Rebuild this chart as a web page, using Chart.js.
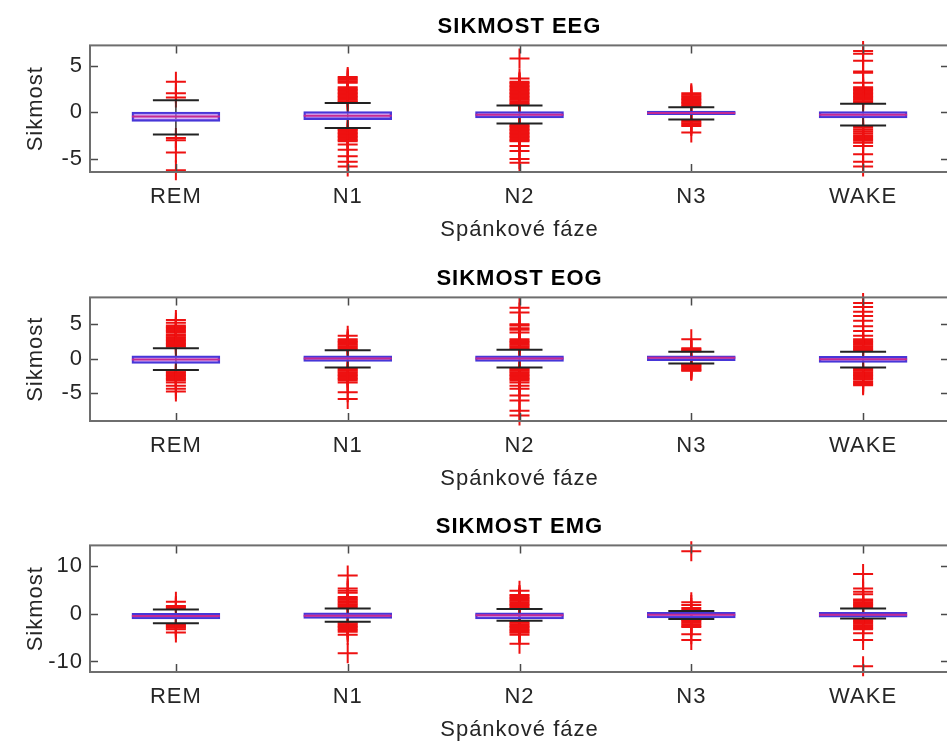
<!DOCTYPE html>
<html>
<head>
<meta charset="utf-8">
<script src="https://cdn.jsdelivr.net/npm/chart.js@4.4.0/dist/chart.umd.min.js"></script>
<style>
  html, body { margin: 0; padding: 0; background: #fff; overflow: hidden; width: 947px; height: 747px; }
  canvas { position: absolute; left: 0; }
</style>
</head>
<body>
<canvas id="eegChart" width="960" height="249" style="top:0px"></canvas>
<canvas id="eogChart" width="960" height="246" style="top:252px"></canvas>
<canvas id="emgChart" width="960" height="249" style="top:500px"></canvas>
<script>
// spankove faze (kategorie na ose x)
const categories = ['REM', 'N1', 'N2', 'N3', 'WAKE'];

// =============================
// SIKMOST EEG
// =============================
const eegLimits = [-6.4, 7.2];
const eegTicks = [-5, 0, 5];
const eegQ1     = [-0.96, -0.78, -0.6, -0.25, -0.6];
const eegMedian = [-0.45, -0.35, -0.25, -0.05, -0.25];
const eegQ3     = [0.05, 0.1, 0.1, 0.15, 0.1];
const eegLow    = [-2.38, -1.67, -1.2, -0.75, -1.4];
const eegHigh   = [1.3, 1.0, 0.75, 0.55, 0.93];
const eegOutREM  = [3.3, 2.05, 1.6, -2.75, -3.0, -4.3, -6.2];
const eegOutN1   = [3.8, 3.65, 3.5, 3.35, 3.2, 2.7, 2.55, 2.4, 2.25, 2.1, 1.95, 1.8, 1.65, 1.5, 1.35, 1.2, 1.1,
                    -1.75, -1.9, -2.05, -2.2, -2.35, -2.5, -2.65, -2.8, -2.95, -3.1, -3.45, -4.0, -4.7, -5.3, -5.8];
const eegOutN2   = [5.8, 3.65, 3.3, 3.15, 3.0, 2.85, 2.7, 2.55, 2.4, 2.25, 2.1, 1.95, 1.8, 1.65, 1.5, 1.35, 1.2, 1.05, 0.9,
                    -1.3, -1.45, -1.6, -1.75, -1.9, -2.05, -2.2, -2.35, -2.5, -2.65, -2.8, -2.95, -3.1, -3.6, -4.15, -5.0, -5.4];
const eegOutN3   = [2.05, 1.9, 1.75, 1.6, 1.45, 1.3, 1.15, 1.0, 0.85, 0.7,
                    -0.85, -1.0, -1.15, -1.3, -1.45, -2.15];
const eegOutWAKE = [6.6, 6.3, 5.55, 4.4, 4.25, 3.2, 2.7, 2.55, 2.4, 2.25, 2.1, 1.95, 1.8, 1.65, 1.5, 1.35, 1.2, 1.05,
                    -1.45, -1.65, -1.85, -2.05, -2.25, -2.45, -2.65, -2.85, -3.05, -3.25, -3.6, -4.5, -5.3, -5.8];

// =============================
// SIKMOST EOG
// =============================
const eogLimits = [-9.1, 8.9];
const eogTicks = [-5, 0, 5];
const eogQ1     = [-0.72, -0.43, -0.43, -0.3, -0.58];
const eogMedian = [-0.15, 0.0, 0.0, 0.1, -0.1];
const eogQ3     = [0.4, 0.4, 0.4, 0.4, 0.3];
const eogLow    = [-1.68, -1.3, -1.3, -0.72, -1.3];
const eogHigh   = [1.5, 1.22, 1.26, 0.97, 0.97];
const eogOutREM  = [5.6, 5.2, 4.8, 4.6, 4.4, 4.2, 4.0, 3.8, 3.5, 3.3, 3.1, 2.9, 2.7, 2.5, 2.3, 2.1, 1.9, 1.7,
                    -1.8, -2.0, -2.2, -2.4, -2.6, -2.8, -3.0, -3.2, -3.5, -3.95, -4.4, -4.8];
const eogOutN1   = [3.3, 2.8, 2.6, 2.4, 2.2, 2.0, 1.8, 1.6, 1.4,
                    -1.4, -1.6, -1.8, -2.0, -2.2, -2.4, -2.6, -2.8, -3.0, -3.2, -3.5, -4.9, -5.9];
const eogOutN2   = [7.4, 6.7, 5.0, 4.8, 4.4, 4.2, 3.8, 2.8, 2.6, 2.4, 2.2, 2.0, 1.8, 1.6, 1.4,
                    -1.4, -1.6, -1.8, -2.0, -2.2, -2.4, -2.6, -2.8, -3.0, -3.2, -3.5, -3.95, -4.4, -5.4, -6.1, -7.6, -8.3];
const eogOutN3   = [2.8, 1.5, 1.35, 1.2, 1.05,
                    -0.8, -0.95, -1.1, -1.25, -1.4, -1.55, -1.7, -1.8];
const eogOutWAKE = [8.1, 7.5, 6.8, 6.2, 5.5, 4.7, 4.0, 3.3, 2.8, 2.6, 2.4, 2.2, 2.0, 1.8, 1.6, 1.4, 1.2,
                    -1.4, -1.6, -1.8, -2.0, -2.2, -2.4, -2.6, -2.8, -3.0, -3.3, -3.5, -3.7, -3.9];

// =============================
// SIKMOST EMG
// =============================
const emgLimits = [-12.2, 14.3];
const emgTicks = [-10, 0, 10];
const emgQ1     = [-1.1, -1.0, -1.1, -0.9, -0.7];
const emgMedian = [-0.5, -0.4, -0.3, -0.2, -0.2];
const emgQ3     = [0.1, 0.2, 0.2, 0.3, 0.3];
const emgLow    = [-2.0, -1.7, -1.45, -1.1, -1.0];
const emgHigh   = [0.9, 1.1, 1.0, 0.56, 1.1];
const emgOutREM  = [2.5, 1.6, 1.35, 1.1,
                    -2.2, -2.45, -2.7, -2.95, -3.25, -3.95];
const emgOutN1   = [8.0, 5.3, 4.8, 4.4, 3.5, 3.2, 2.9, 2.6, 2.3, 2.0, 1.7, 1.4,
                    -1.9, -2.2, -2.5, -2.8, -3.1, -3.4, -3.75, -4.4, -8.25];
const emgOutN2   = [4.8, 3.9, 3.6, 3.3, 3.0, 2.7, 2.4, 2.1, 1.8, 1.5, 1.2,
                    -1.6, -1.9, -2.2, -2.5, -2.8, -3.1, -3.4, -3.7, -4.0, -4.4, -6.3];
const emgOutN3   = [13.1, 2.4, 1.8, 1.2, 0.8,
                    -1.3, -1.6, -1.9, -2.2, -2.5, -2.8, -4.3, -5.5];
const emgOutWAKE = [8.3, 5.3, 4.6, 4.1, 3.0, 2.7, 2.4, 2.1, 1.8, 1.5, 1.2,
                    -1.2, -1.5, -1.8, -2.1, -2.4, -2.7, -3.0, -3.25, -4.1, -5.5, -11.0];

// =============================
// Helpers / styl
// =============================
const FONT = 'Liberation Sans, Arial, Helvetica, sans-serif';
const TEXT_COLOR = '#262626';
const TICK_LEN = 8;

// MATLAB-like ramecek + tick dovnitr
const framePlugin = {
  id: 'frame',
  afterDraw(chart) {
    const { ctx, chartArea: a, scales: { x, y } } = chart;
    ctx.save();
    ctx.strokeStyle = '#4a4a4a';
    ctx.lineWidth = 1.5;
    ctx.beginPath();
    x.ticks.forEach(t => {
      const px = Math.round(x.getPixelForValue(t.value)) + 0.5;
      ctx.moveTo(px, a.top); ctx.lineTo(px, a.top + TICK_LEN);
      ctx.moveTo(px, a.bottom); ctx.lineTo(px, a.bottom - TICK_LEN);
    });
    y.ticks.forEach(t => {
      const py = Math.round(y.getPixelForValue(t.value)) + 0.5;
      ctx.moveTo(a.left, py); ctx.lineTo(a.left + TICK_LEN, py);
      ctx.moveTo(a.right, py); ctx.lineTo(a.right - TICK_LEN, py);
    });
    ctx.stroke();
    ctx.strokeStyle = '#6e6e6e';
    ctx.lineWidth = 2;
    ctx.strokeRect(a.left, a.top, a.right - a.left, a.bottom - a.top);
    ctx.restore();
  }
};

// trochu sirsi pismo jako v MATLABu
const spacingPlugin = {
  id: 'spacing',
  beforeLayout(chart) { chart.ctx.letterSpacing = '1px'; },
  beforeDraw(chart) { chart.ctx.letterSpacing = '1px'; }
};

function makeChart(canvasId, title, limits, ticks, q1, med, q3, low, high, outliers) {
  const xs = categories.map((c, i) => i + 1);

  const boxes = xs.map((x, i) => ({ x, y: [q1[i], q3[i]] }));
  const medians = xs.map((x, i) => ({ x, y: med[i] }));
  const caps = [];
  const whiskers = [];
  xs.forEach((x, i) => {
    caps.push({ x, y: low[i] }, { x, y: high[i] });
    whiskers.push({ x, y: low[i] }, { x, y: high[i] }, { x, y: null });
  });
  const outPts = [];
  outliers.forEach((arr, i) => arr.forEach(v => outPts.push({ x: xs[i], y: v })));

  return new Chart(document.getElementById(canvasId), {
    type: 'scatter',
    data: {
      datasets: [
        { type: 'scatter', data: medians, pointStyle: 'line', pointRadius: 44, pointHoverRadius: 44,
          borderColor: '#c42a92', borderWidth: 2 },
        { type: 'bar', data: boxes, barThickness: 88, grouped: false, borderSkipped: false,
          backgroundColor: 'rgba(185,125,240,0.55)', borderColor: '#4636d8', borderWidth: 2 },
        { type: 'scatter', data: caps, pointStyle: 'line', pointRadius: 23, pointHoverRadius: 23,
          borderColor: '#222222', borderWidth: 2 },
        { type: 'line', data: whiskers, showLine: true, spanGaps: false, pointRadius: 0,
          borderColor: '#333333', borderWidth: 1.5 },
        { type: 'scatter', data: outPts, pointStyle: 'cross', pointRadius: 10, pointHoverRadius: 10,
          borderColor: '#ee1111', borderWidth: 2, clip: false },
      ]
    },
    options: {
      responsive: false,
      animation: false,
      devicePixelRatio: 1,
      events: [],
      layout: { autoPadding: false, padding: { left: 0, right: 11, top: 0, bottom: 0 } },
      plugins: {
        legend: { display: false },
        tooltip: { enabled: false },
        title: {
          display: true, text: title, fullSize: false, color: '#000',
          font: { family: FONT, size: 22, weight: 'bold' },
          padding: { top: 14, bottom: 5 }
        }
      },
      scales: {
        x: {
          type: 'linear', min: 0.5, max: 5.5, offset: false,
          afterBuildTicks: s => { s.ticks = xs.map(v => ({ value: v })); },
          afterFit: s => { s.height = 77; },
          grid: { display: false, drawTicks: false, offset: false },
          border: { display: false },
          ticks: {
            padding: 12, color: TEXT_COLOR, autoSkip: false, maxRotation: 0,
            font: { family: FONT, size: 22 },
            callback: v => categories[v - 1] || ''
          },
          title: {
            display: true, text: 'Spánkové fáze', color: TEXT_COLOR,
            font: { family: FONT, size: 22 }, padding: { top: 0, bottom: 6 }
          }
        },
        y: {
          min: limits[0], max: limits[1],
          afterBuildTicks: s => { s.ticks = ticks.map(v => ({ value: v })); },
          afterFit: s => { s.width = 90; },
          grid: { display: false, drawTicks: false },
          border: { display: false },
          ticks: { padding: 7, color: TEXT_COLOR, font: { family: FONT, size: 22 }, callback: v => String(v) },
          title: {
            display: true, text: 'Sikmost', color: TEXT_COLOR,
            font: { family: FONT, size: 22 }, padding: { top: 23, bottom: 0 }
          }
        }
      }
    },
    plugins: [spacingPlugin, framePlugin]
  });
}

makeChart('eegChart', 'SIKMOST EEG', eegLimits, eegTicks, eegQ1, eegMedian, eegQ3, eegLow, eegHigh,
  [eegOutREM, eegOutN1, eegOutN2, eegOutN3, eegOutWAKE]);
makeChart('eogChart', 'SIKMOST EOG', eogLimits, eogTicks, eogQ1, eogMedian, eogQ3, eogLow, eogHigh,
  [eogOutREM, eogOutN1, eogOutN2, eogOutN3, eogOutWAKE]);
makeChart('emgChart', 'SIKMOST EMG', emgLimits, emgTicks, emgQ1, emgMedian, emgQ3, emgLow, emgHigh,
  [emgOutREM, emgOutN1, emgOutN2, emgOutN3, emgOutWAKE]);
</script>
</body>
</html>
